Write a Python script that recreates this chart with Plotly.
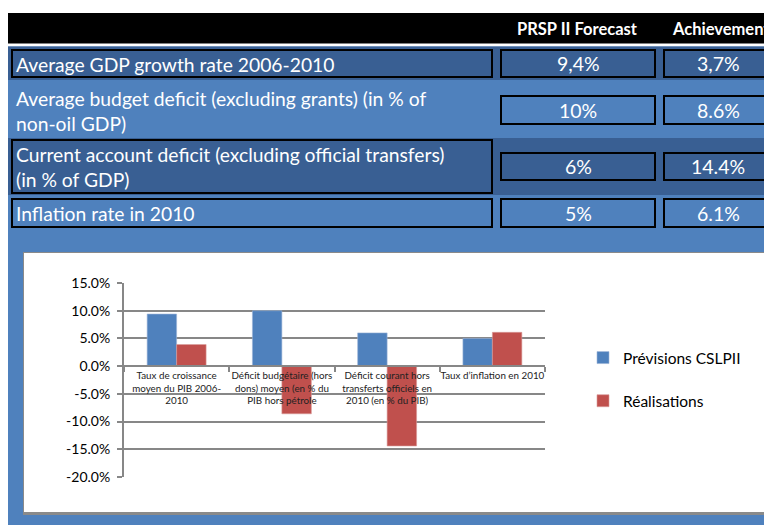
import plotly.graph_objects as go

# ---------------- data ----------------
categories = [
    "Taux de croissance moyen du PIB 2006-2010",
    "Déficit budgétaire (hors dons) moyen (en % du PIB hors pétrole",
    "Déficit courant hors transferts officiels en 2010 (en % du PIB)",
    "Taux d’inflation en 2010",
]
tick_labels = [
    "Taux de croissance<br>moyen du PIB 2006-<br>2010",
    "Déficit budgétaire (hors<br>dons) moyen (en % du<br>PIB hors pétrole",
    "Déficit courant hors<br>transferts officiels en<br>2010 (en % du PIB)",
    "Taux d’inflation en 2010",
]
previsions = [9.4, 10.0, 6.0, 5.0]
realisations = [3.9, -8.6, -14.4, 6.1]
series_names = ["Prévisions CSLPII", "Réalisations"]

y_tick_values = [15, 10, 5, 0, -5, -10, -15, -20]
y_tick_labels = ["15.0%", "10.0%", "5.0%", "0.0%", "-5.0%", "-10.0%", "-15.0%", "-20.0%"]

table_headers = ["PRSP II Forecast", "Achievement"]
table_rows = [
    "Average GDP growth rate 2006-2010",
    "Average budget deficit (excluding grants) (in % of<br>non-oil GDP)",
    "Current account deficit (excluding official transfers)<br>(in % of GDP)",
    "Inflation rate in 2010",
]
table_forecast = ["9,4%", "10%", "6%", "5%"]
table_achievement = ["3,7%", "8.6%", "14.4%", "6.1%"]

# ---------------- geometry helpers (page pixel -> paper) ----------------
OFF = 8  # page body margin
W, H = 772 - OFF, 525 - OFF
PL, PT, PW, PH = 124, 283, 421, 194  # plot area in page pixels
L, T = PL - OFF, PT - OFF
R, B = W - L - PW, H - T - PH


def fx(X):
    return (X - PL) / PW


def fy(Y):
    return (PT + PH - Y) / PH


BLUE = "#4F81BD"
DARK = "#395F93"
RED = "#C0504D"
GRID = "#878787"
FONT = "Lato, 'Open Sans', sans-serif"

shapes = []


def rect(x0, y0, x1, y1, fill=None, line=None, lw=0):
    shapes.append(dict(
        type="rect", xref="paper", yref="paper", layer="below",
        x0=fx(x0), x1=fx(x1), y0=fy(y1), y1=fy(y0),
        fillcolor=fill if fill else "rgba(0,0,0,0)",
        line=dict(color=line if line else "rgba(0,0,0,0)", width=lw),
    ))


# header bar and background
rect(7, 13, 780, 43.5, fill="#000000")
rect(7, 46.5, 780, 530, fill=BLUE)
# dark row bands
rect(7, 46.5, 780, 80, fill=DARK)
rect(7, 138, 780, 195, fill=DARK)

# label boxes
label_boxes = [(50, 77), None, (140, 193), (199, 227)]
value_boxes = [(50, 77), (96, 124), (153, 180), (199, 227)]
for lb in label_boxes:
    if lb:
        rect(12, lb[0], 492, lb[1], line="#000000", lw=2)
for vb in value_boxes:
    rect(501, vb[0], 655, vb[1], line="#000000", lw=2)
    rect(664, vb[0], 785, vb[1], line="#000000", lw=2)

# chart panel
rect(23, 252, 772, 515, fill="#8A8A8A")
rect(24, 253, 769, 512, fill="#FFFFFF")

annotations = []
# header texts
annotations.append(dict(text="<b>" + table_headers[0] + "</b>", x=fx(577), y=fy(29),
                        xref="paper", yref="paper", showarrow=False,
                        xanchor="center", yanchor="middle",
                        font=dict(family=FONT, size=16.5, color="#FFFFFF")))
annotations.append(dict(text="<b>" + table_headers[1] + "</b>", x=fx(670), y=fy(29),
                        xref="paper", yref="paper", showarrow=False,
                        xanchor="left", yanchor="middle",
                        font=dict(family=FONT, size=16.5, color="#FFFFFF")))

row_centers = [64, 111, 167, 213]
for i, txt in enumerate(table_rows):
    annotations.append(dict(text=txt, x=fx(14), y=fy(row_centers[i]),
                            xref="paper", yref="paper", showarrow=False,
                            xanchor="left", yanchor="middle", align="left",
                            font=dict(family=FONT, size=19.3, color="#FFFFFF")))
    vb = value_boxes[i]
    cy = (vb[0] + vb[1]) / 2
    annotations.append(dict(text=table_forecast[i], x=fx(578), y=fy(cy),
                            xref="paper", yref="paper", showarrow=False,
                            xanchor="center", yanchor="middle",
                            font=dict(family=FONT, size=19.5, color="#FFFFFF")))
    annotations.append(dict(text=table_achievement[i], x=fx(718), y=fy(cy),
                            xref="paper", yref="paper", showarrow=False,
                            xanchor="center", yanchor="middle",
                            font=dict(family=FONT, size=19.5, color="#FFFFFF")))

fig = go.Figure()
fig.add_trace(go.Bar(x=categories, y=previsions, name=series_names[0],
                     marker=dict(color=BLUE, line=dict(color="#9DB6D8", width=0.6)),
                     legendgroup="a"))
fig.add_trace(go.Bar(x=categories, y=realisations, name=series_names[1],
                     marker=dict(color=RED, line=dict(color="#D99A98", width=0.6)),
                     legendgroup="b"))

ymin, ymax = -20, 15
fig.update_layout(
    width=W, height=H,
    margin=dict(l=L, r=R, t=T, b=B, pad=0),
    paper_bgcolor="#FFFFFF",
    plot_bgcolor="rgba(0,0,0,0)",
    barmode="group", bargap=0.44, bargroupgap=0,
    shapes=shapes,
    annotations=annotations,
    showlegend=True,
    legend=dict(x=fx(583), y=fy(341), xanchor="left", yanchor="top",
                xref="paper", yref="paper",
                font=dict(family=FONT, size=15.5, color="#000000"),
                tracegroupgap=20, bgcolor="rgba(0,0,0,0)", itemwidth=30),
    font=dict(family=FONT, color="#000000"),
    xaxis=dict(
        type="category", range=[-0.5, 3.5],
        tickvals=categories, ticktext=tick_labels,
        anchor="free", position=(0 - ymin) / (ymax - ymin),
        showline=True, linecolor=GRID, linewidth=2,
        ticks="outside", tickson="boundaries", ticklen=5, tickwidth=1.5, tickcolor=GRID,
        showgrid=False, tickangle=0,
        tickfont=dict(family=FONT, size=9.8, color="#222222"),
    ),
    yaxis=dict(
        range=[ymin, ymax],
        tickmode="array", tickvals=y_tick_values, ticktext=y_tick_labels,
        showgrid=True, gridcolor=GRID, gridwidth=2,
        zeroline=False,
        showline=True, linecolor=GRID, linewidth=2,
        ticks="outside", ticklen=5, tickwidth=1.5, tickcolor=GRID,
        ticklabelstandoff=4,
        tickfont=dict(family=FONT, size=14, color="#000000"),
    ),
)

fig.write_html("out.html")
